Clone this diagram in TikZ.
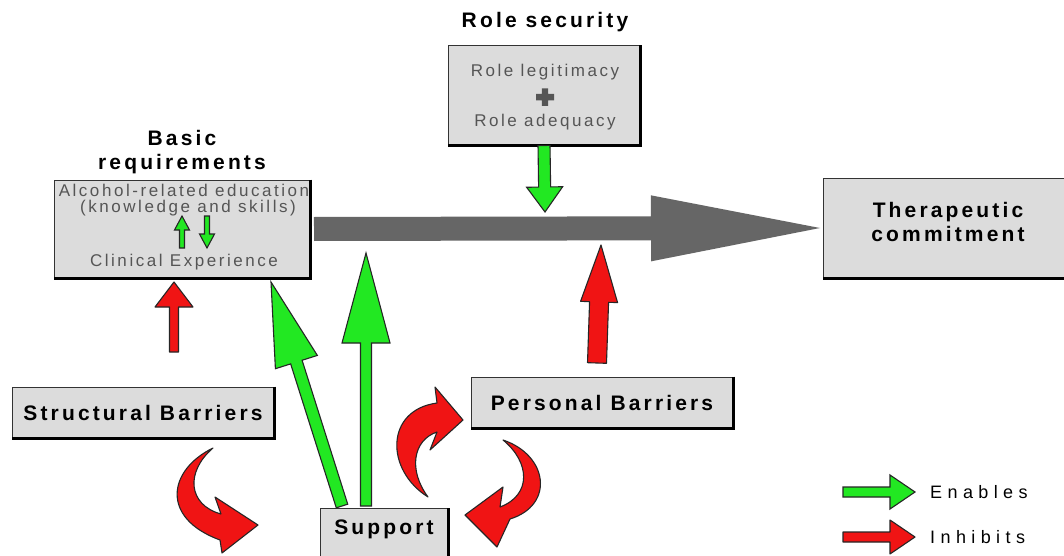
\documentclass[tikz,border=0pt]{standalone}
\usepackage{fontspec}
\setmainfont{Liberation Sans}
\newfontfamily\hfont[LetterSpace=15]{Liberation Sans}
\newfontfamily\lfont[LetterSpace=30]{Liberation Sans}
\usetikzlibrary{calc}
\definecolor{engreen}{RGB}{34,232,34}
\definecolor{inred}{RGB}{240,20,20}
\definecolor{bigarrow}{RGB}{102,102,102}
\definecolor{boxgray}{RGB}{220,220,220}
\definecolor{innergray}{RGB}{85,85,85}
\tikzset{
  box/.style={draw=black!80, line width=1pt, fill=boxgray, inner sep=0pt, align=center},
  headtext/.style={font=\hfont\bfseries\fontsize{21}{24}\selectfont, text=black, align=center},
  innertext/.style={font=\hfont\fontsize{17}{19}\selectfont, text=innergray, inner sep=0pt},
  legtext/.style={font=\lfont\fontsize{18}{20}\selectfont, text=black, anchor=west, inner sep=0pt},
  greenarrow/.style={draw=black!85, line width=1.1pt, fill=engreen, line join=miter},
  redarrow/.style={draw=black!85, line width=1.1pt, fill=inred, line join=round},
  grayarrow/.style={fill=bigarrow, draw=none},
  edge/.style={draw=black, line width=2.2pt}
}
\newcommand\blockarrow[6]{%
  \coordinate (ba-h) at ($(#2)!#5!(#1)$);
  \draw[#6] ($(#1)!#3!90:(#2)$) -- ($(ba-h)!#3!90:(#2)$) -- ($(ba-h)!#4!90:(#2)$) -- (#2)
    -- ($(ba-h)!#4!-90:(#2)$) -- ($(ba-h)!#3!-90:(#2)$) -- ($(#1)!#3!-90:(#2)$) -- cycle;}
\newcommand\boxedge[1]{\draw[edge] (#1.north east) -- (#1.south east) -- (#1.south west);}
\begin{document}
\begin{tikzpicture}[x=1pt,y=-1pt]
\useasboundingbox (0,0) rectangle (1064,556);
\fill[white] (0,0) rectangle (1064,556);

% boxes
\node[box, minimum width=192pt, minimum height=99pt] (role) at (544,95.5) {};
\node[box, minimum width=256pt, minimum height=98pt] (basic) at (182,229) {};
\node[box, minimum width=250pt, minimum height=100pt] (thera) at (948,228) {};
\node[box, minimum width=262pt, minimum height=51pt, headtext] (struct) at (143,412.5) {Structural Barriers};
\node[box, minimum width=262pt, minimum height=51pt, headtext] (personal) at (602,402.5) {Personal Barriers};
\node[box, headtext, anchor=north, minimum width=128pt, text height=26pt, text depth=40pt] (support) at (384,508) {Support};
\boxedge{role}\boxedge{basic}\boxedge{thera}\boxedge{struct}\boxedge{personal}\boxedge{support}

% headings
\node[headtext] (rstitle) at (545,22) {Role security};
\node[headtext] (brtitle) at (182,152) {Basic\\requirements};
\node[headtext] (theratext) at (948,222) {Therapeutic\\commitment};

% inner texts
\node[innertext] (legit) at (545,72) {Role legitimacy};
\node[innertext] (adeq) at (545,122) {Role adequacy};
\fill[innergray] (536,94) rectangle (554,100.5) (541.8,88.5) rectangle (548.2,106);
\node[innertext] (edu) at (184,190) {Alcohol-related education};
\node[innertext] (skills) at (188,208) {(knowledge and skills)};
\node[innertext] (clin) at (184,262) {Clinical Experience};

% coordinates
\coordinate (rsTip) at (545,212);
\coordinate (gStart) at (314,229);
\coordinate (gTip) at (820,228);
\coordinate (r1s) at (174,352);
\coordinate (r1t) at (174,282);
\coordinate (gds) at (342,506);
\coordinate (gdt) at (271,282);
\coordinate (gvs) at (366,506);
\coordinate (gvt) at (366,253);
\coordinate (r2s) at (597,363);
\coordinate (r2t) at (601,245);
\coordinate (upS) at (182,248);
\coordinate (upT) at (182,216);
\coordinate (dnS) at (207,216);
\coordinate (dnT) at (207,248);
\coordinate (lgS) at (843,492);
\coordinate (lgT) at (915,492);
\coordinate (lrS) at (843,537);
\coordinate (lrT) at (915,537);

% arrows
\blockarrow{gStart}{gTip}{12pt}{33pt}{169pt}{grayarrow}
\blockarrow{role.south}{rsTip}{6pt}{18pt}{25pt}{greenarrow}
\blockarrow{r1s}{r1t}{4.5pt}{19pt}{25pt}{redarrow}
\blockarrow{gds}{gdt}{6pt}{22pt}{84pt}{greenarrow}
\blockarrow{gvs}{gvt}{5.5pt}{24pt}{90pt}{greenarrow}
\blockarrow{r2s}{r2t}{9.5pt}{18.5pt}{57pt}{redarrow}
\blockarrow{upS}{upT}{2.5pt}{7.5pt}{14pt}{greenarrow}
\blockarrow{dnS}{dnT}{2.5pt}{7.5pt}{14pt}{greenarrow}
\blockarrow{lgS}{lgT}{5pt}{17pt}{25pt}{greenarrow}
\blockarrow{lrS}{lrT}{5pt}{17pt}{25pt}{redarrow}

% curved red arrows
\draw[redarrow] (213,448) .. controls (168,470) and (160,518) .. (220,540)
  -- (222,553) -- (258,525) -- (215,497) -- (221,514)
  .. controls (188,505) and (185,472) .. (213,448) -- cycle;
\draw[redarrow] (428,497) .. controls (385,470) and (385,410) .. (437,403)
  -- (435,387) -- (463,420) -- (430,450) -- (437,432)
  .. controls (413,440) and (408,470) .. (428,497) -- cycle;
\draw[redarrow] (503,440) .. controls (548,455) and (555,505) .. (510,519)
  -- (497,547) -- (465,515) -- (503,487) -- (500,507)
  .. controls (532,495) and (530,462) .. (503,440) -- cycle;

% legend
\node[legtext] (enables) at (930,492) {Enables};
\node[legtext] (inhibits) at (930,537) {Inhibits};
\end{tikzpicture}
\end{document}
